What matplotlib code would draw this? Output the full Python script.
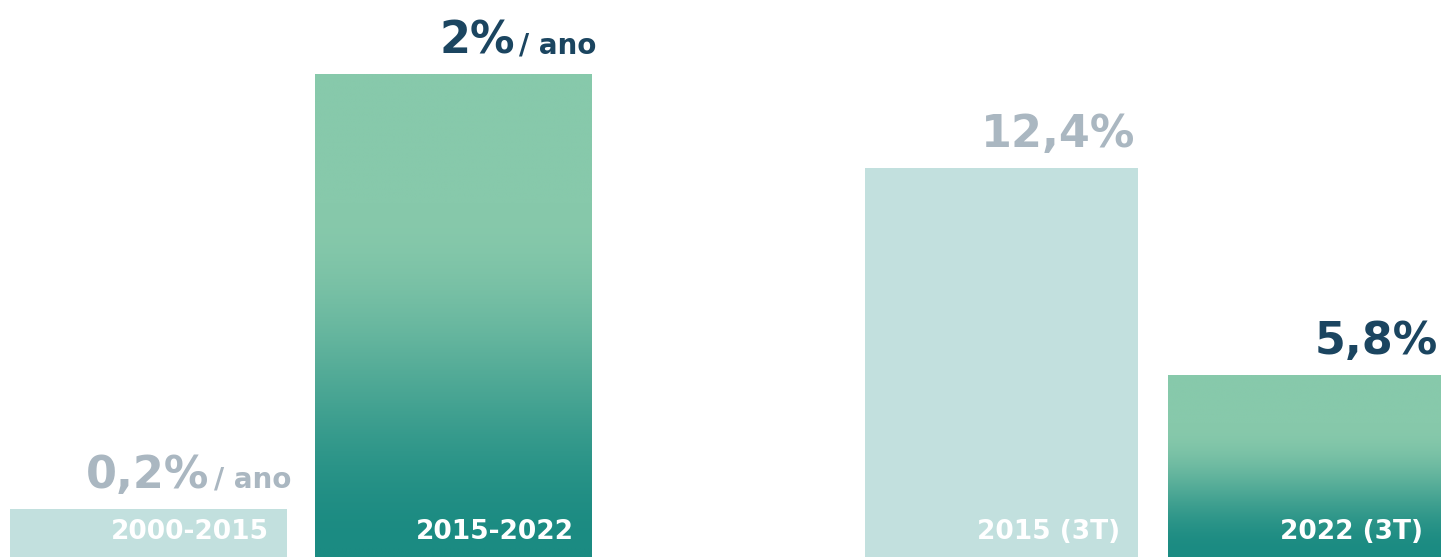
import numpy as np
import matplotlib
matplotlib.use("Agg")
import matplotlib.pyplot as plt
from matplotlib.colors import LinearSegmentedColormap, to_rgb

# ---- data ----
left_categories = ["2000-2015", "2015-2022"]
left_values = [0.2, 2.0]
left_labels = ["0,2%", "2%"]
left_suffix = "/ ano"

right_categories = ["2015 (3T)", "2022 (3T)"]
right_values = [12.4, 5.8]
right_labels = ["12,4%", "5,8%"]

# ---- style ----
W, H, DPI = 1441, 557, 100
FONT = "DejaVu Sans"
LIGHT = "#c2e0de"
GREY = "#aab7c1"
NAVY = "#1b4560"
DARK_G = np.array(to_rgb("#1b8b82"))
LIGHT_G = np.array(to_rgb("#87c9ab"))
_t = np.linspace(0, 1, 64)
_s = np.clip((_t - 0.02) / (0.72 - 0.02), 0, 1)
_s = _s * _s * (3 - 2 * _s)
grad_cmap = LinearSegmentedColormap.from_list(
    "g", [(float(a), tuple(DARK_G + (LIGHT_G - DARK_G) * b)) for a, b in zip(_t, _s)])

fig = plt.figure(figsize=(W / DPI, H / DPI), dpi=DPI)

axL = fig.add_axes([10 / W, 0, 582 / W, 1])
axR = fig.add_axes([865 / W, 0, 576 / W, 1])


def draw_group(ax, cats, vals, ylim_top, width, highlight_idx):
    x = np.arange(len(cats))
    bars = ax.bar(x, vals, width=width, color=LIGHT, linewidth=0)
    ax.axis("off")
    b = bars[highlight_idx]
    b.set_facecolor("none")
    x0, y0 = b.get_x(), b.get_y()
    x1, y1 = x0 + b.get_width(), y0 + b.get_height()
    grad = np.linspace(0, 1, 256).reshape(-1, 1)
    im = ax.imshow(grad, cmap=grad_cmap, origin="lower", aspect="auto",
                   extent=(x0, x1, y0, y1), zorder=1, interpolation="bilinear")
    im.set_clip_path(b)
    ax.set_xlim(-0.5 * width, len(cats) - 1 + 0.5 * width)
    ax.set_ylim(0, ylim_top)
    for i, c in enumerate(cats):
        ax.annotate(c, xy=(i + width / 2, 0), xytext=(-13, 13),
                    textcoords="offset points", ha="right", va="baseline",
                    color="white", fontsize=19, fontweight="bold",
                    family=FONT, zorder=3)
    return bars


barsL = draw_group(axL, left_categories, left_values, 2.306, 0.908, 1)
barsR = draw_group(axR, right_categories, right_values, 17.76, 0.901, 1)

renderer = fig.canvas.get_renderer()


def value_label(ax, i, width, val, text, color, suffix=None):
    xr = i + width / 2
    off = 2
    if suffix:
        t = ax.annotate(suffix, xy=(xr, val), xytext=(3, 15),
                        textcoords="offset points", ha="right", va="baseline",
                        color=color, fontsize=20, fontweight="bold", family=FONT)
        bb = t.get_window_extent(renderer)
        off = bb.width * 72 / DPI
    ax.annotate(text, xy=(xr, val), xytext=(-off, 15),
                textcoords="offset points", ha="right", va="baseline",
                color=color, fontsize=32, fontweight="bold", family=FONT)


value_label(axL, 0, 0.908, left_values[0], left_labels[0], GREY, left_suffix)
value_label(axL, 1, 0.908, left_values[1], left_labels[1], NAVY, left_suffix)
value_label(axR, 0, 0.901, right_values[0], right_labels[0], GREY)
value_label(axR, 1, 0.901, right_values[1], right_labels[1], NAVY)

fig.savefig("out.png", dpi=DPI)
